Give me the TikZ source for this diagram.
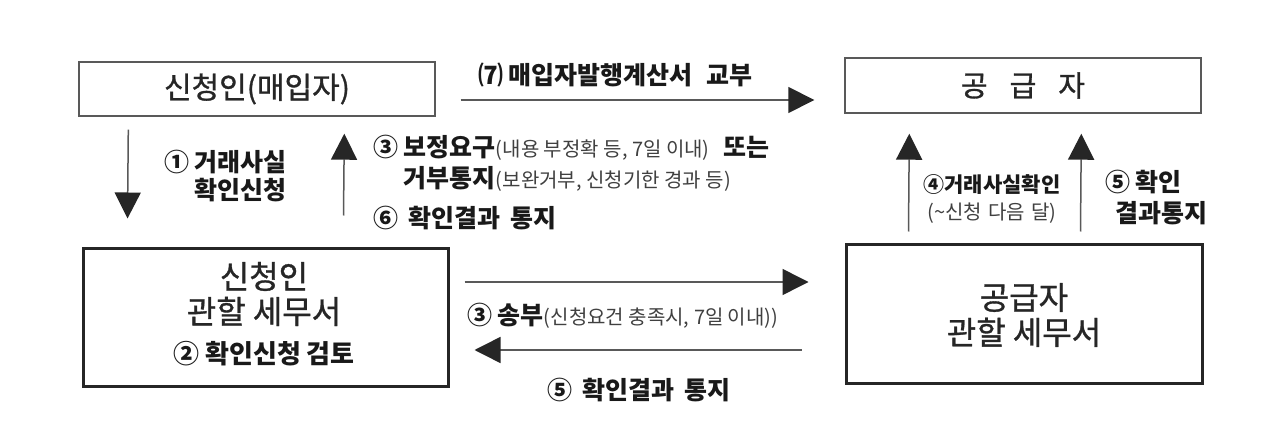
\documentclass[tikz,border=0pt]{standalone}
\usepackage{fontspec}
\setmainfont{Noto Sans CJK KR}
\newfontfamily\medfont[FakeBold=1]{Noto Sans CJK KR}
\usetikzlibrary{arrows.meta}
\newcommand\smtext[1]{{\fontsize{20}{22}\selectfont\mdseries\color{black!75}#1}}
\begin{document}
\begin{tikzpicture}[x=1pt,y=-1pt,
  thinbox/.style={draw=black!65, line width=1.4pt, inner sep=0pt},
  thickbox/.style={draw=black!85, line width=3pt, inner sep=0pt},
  arr/.style={draw=black!65, line width=1.5pt, -{Triangle[width=26pt,length=26pt,color=black!85]}},
  lbl/.style={font=\fontsize{25}{31}\selectfont\bfseries, inner sep=0pt, text=black!90},
  boxtxt/.style={font=\medfont\fontsize{32}{35}\selectfont, inner sep=0pt, text=black!85, align=center},
]
\useasboundingbox[fill=white] (0,0) rectangle (1284,446);

% boxes
\node[thinbox, minimum width=356pt, minimum height=54pt, font=\medfont\fontsize{30}{34}\selectfont, text=black!85] (A) at (257,89) {신청인(매입자)};
\node[thinbox, minimum width=356pt, minimum height=55pt, font=\medfont\fontsize{29}{34}\selectfont, text=black!85] (B) at (1023,85.5) {공\hspace{22pt}급\hspace{22pt}자};
\node[thickbox, minimum width=365pt, minimum height=137pt] (C) at (265.5,317.5) {};
\node[thickbox, minimum width=356pt, minimum height=138pt] (D) at (1024,314) {};

% box texts
\node[boxtxt] (Ct) at (264,294) {신청인\\관할 세무서};
\node[lbl, font=\fontsize{26}{30}\selectfont\bfseries] (Cs) at (264,354) {② 확인신청 검토};
\node[boxtxt] (Dt) at (1024,315) {공급자\\관할 세무서};

% arrows
\draw[arr] ([shift={(50,13)}]A.south west) -- ([shift={(46,-29)}]C.north west);
\draw[arr] ([shift={(262,-32)}]C.north west) -- ([shift={(266,17)}]A.south west);
\draw[arr] ([shift={(25,11)}]A.east) -- ([shift={(-30,14.5)}]B.west);
\draw[arr] ([shift={(64,-12)}]D.north west) -- ([shift={(65,20)}]B.south west);
\draw[arr] ([shift={(236,-12)}]D.north west) -- ([shift={(237,20)}]B.south west);
\draw[arr] ([shift={(15,-35.5)}]C.east) -- ([shift={(-36,-32)}]D.west);
\draw[arr] ([shift={(-43,36)}]D.west) -- ([shift={(25,32.5)}]C.east);

% labels
\node[lbl, anchor=west] (L7) at (478,75) {⑺ 매입자발행계산서\hspace{14pt}교부};
\node[lbl, anchor=east, align=right, font=\fontsize{25}{28}\selectfont\bfseries] (L1) at (287,176.5) {① 거래사실\\확인신청};
\node[lbl, anchor=west, align=left] (L3) at (373,163) {③ 보정요구\smtext{(내용 부정확 등, 7일 이내)}\hspace{14pt}또는\\\phantom{③ }거부통지\smtext{(보완거부, 신청기한 경과 등)}};
\node[lbl, anchor=west] (L6) at (373,218) {⑥\hspace{10pt}확인결과\hspace{10pt}통지};
\node[lbl, align=center, font=\fontsize{21}{27}\selectfont\bfseries] (L4) at (992,199) {④거래사실확인\\\smtext{(\textasciitilde 신청\hspace{6pt}다음\hspace{6pt}달)}};
\node[lbl, anchor=west, align=left] (L5) at (1105,198) {⑤ 확인\\\hspace{10pt}결과통지};
\node[lbl, anchor=west] (L3b) at (467,316) {③ 송부\smtext{(신청요건 충족시, 7일 이내))}};
\node[lbl, anchor=west] (L5b) at (547,390) {⑤\hspace{10pt}확인결과\hspace{10pt}통지};
\end{tikzpicture}
\end{document}
